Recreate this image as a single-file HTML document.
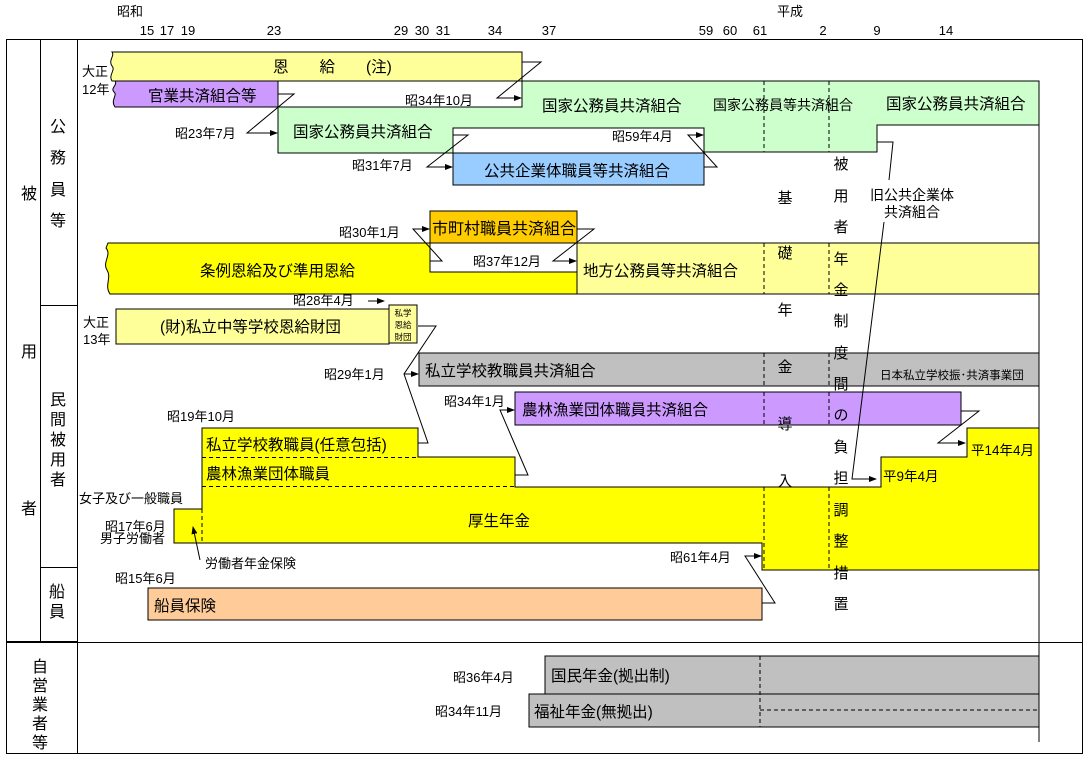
<!DOCTYPE html>
<html><head><meta charset="utf-8">
<style>
html,body{margin:0;padding:0;background:#fff;}
svg{display:block;}
text{font-family:"Liberation Sans","Noto Sans CJK JP",sans-serif;fill:#000;}
</style></head>
<body>
<svg width="1088" height="762" viewBox="0 0 1088 762" xmlns="http://www.w3.org/2000/svg">
<g font-size="13">
<!-- axis -->
<text x="117" y="16" font-size="13">昭和</text>
<text x="777" y="16" font-size="13">平成</text>
<g font-size="13" text-anchor="middle">
<text x="147" y="35">15</text><text x="167" y="35">17</text><text x="188" y="35">19</text>
<text x="274" y="35">23</text><text x="401" y="35">29</text><text x="422" y="35">30</text><text x="443" y="35">31</text>
<text x="495" y="35">34</text><text x="549" y="35">37</text><text x="706" y="35">59</text><text x="730" y="35">60</text>
<text x="760" y="35">61</text><text x="823" y="35">2</text><text x="877" y="35">9</text><text x="946" y="35">14</text>
</g>

<!-- frame -->
<g stroke="#000" fill="none" stroke-width="1">
<rect x="6.5" y="39.5" width="1076" height="714"/>
<line x1="40.5" y1="39" x2="40.5" y2="642"/>
<line x1="77.5" y1="39" x2="77.5" y2="754"/>
<line x1="40" y1="305.5" x2="77" y2="305.5"/>
<line x1="40" y1="567.5" x2="77" y2="567.5"/>
<line x1="77" y1="642.5" x2="1082" y2="642.5"/>
<line x1="6" y1="642" x2="77" y2="642" stroke-width="2"/>
</g>
<g font-size="16" text-anchor="middle">
<text x="29" y="199">被</text><text x="29" y="357">用</text><text x="29" y="514">者</text>
<text x="58" y="132">公</text><text x="58" y="163">務</text><text x="58" y="195">員</text><text x="58" y="226">等</text>
<text x="58" y="405">民</text><text x="58" y="425">間</text><text x="58" y="445">被</text><text x="58" y="465">用</text><text x="58" y="485">者</text>
<text x="57" y="597">船</text><text x="57" y="617">員</text>
<text x="40" y="672">自</text><text x="40" y="691">営</text><text x="40" y="710">業</text><text x="40" y="729">者</text><text x="40" y="748">等</text>
</g>

<!-- boxes -->
<g stroke="#000" stroke-width="1">
<path d="M112,52 L522,52 L522,107 L278,107 L278,81 L112,81 C108,75 116,70 112,66 C108,60 115,56 112,52 Z" fill="#ffff99"/>
<rect x="278" y="81" width="244" height="26" fill="#fff"/>
<path d="M115,81 L278,81 L278,107 L115,107 C110,100 118,95 114,92 C110,88 118,85 115,81 Z" fill="#cc99ff"/>
<path d="M278,107 L522,107 L522,81 L1039,81 L1039,125 L877,125 L877,152 L704,152 L704,128 L453,128 L453,153 L278,153 Z" fill="#ccffcc"/>
<rect x="453" y="128" width="251" height="25" fill="#fff"/>
<rect x="453" y="153" width="251" height="32" fill="#99ccff"/>
<rect x="430" y="211" width="147" height="32" fill="#ffcc00"/>
<rect x="430" y="243" width="147" height="29" fill="#fff"/>
<path d="M108,243 L430,243 L430,272 L577,272 L577,294 L110,294 C104,285 112,278 107,270 C102,262 112,255 106,248 Z" fill="#ffff00"/>
<rect x="577" y="243" width="462" height="51" fill="#ffff99"/>
<rect x="116" y="309" width="273" height="35" fill="#ffff99"/>
<rect x="389" y="305" width="28" height="38" fill="#ffff99"/>
<rect x="419" y="353" width="620" height="33" fill="#c0c0c0"/>
<rect x="515" y="392" width="446" height="33" fill="#cc99ff"/>
<path d="M202,428 L418,428 L418,457 L515,457 L515,487 L881,487 L881,457 L967,457 L967,428 L1039,428 L1039,570 L762,570 L762,543 L174,543 L174,509 L202,509 Z" fill="#ffff00"/>
<rect x="148" y="588" width="614" height="32" fill="#ffcc99"/>
<rect x="545" y="656" width="494" height="38" fill="#c0c0c0"/>
<rect x="529" y="694" width="510" height="33" fill="#c0c0c0"/>
<line x1="545" y1="656" x2="545" y2="694"/>
</g>
<line x1="1039" y1="81" x2="1039" y2="742" stroke="#000"/>
<g stroke="#000" stroke-dasharray="4,3" fill="none">
<line x1="764" y1="81" x2="764" y2="152"/><line x1="829" y1="81" x2="829" y2="152"/>
<line x1="764" y1="243" x2="764" y2="294"/><line x1="829" y1="243" x2="829" y2="294"/>
<line x1="764" y1="353" x2="764" y2="386"/><line x1="829" y1="353" x2="829" y2="386"/>
<line x1="764" y1="392" x2="764" y2="425"/><line x1="829" y1="392" x2="829" y2="425"/>
<line x1="764" y1="487" x2="764" y2="570"/><line x1="829" y1="487" x2="829" y2="570"/>
<line x1="202" y1="457.5" x2="418" y2="457.5"/><line x1="202" y1="486.5" x2="515" y2="486.5"/>
<line x1="202" y1="509" x2="202" y2="543"/>
<line x1="760" y1="656" x2="760" y2="727"/>
<line x1="545" y1="694" x2="760" y2="694"/><line x1="760" y1="710" x2="1039" y2="710"/>
</g>

<defs><marker id="a" markerWidth="8" markerHeight="6" refX="7" refY="3" orient="auto"><path d="M0,0 L8,3 L0,6 Z" fill="#000"/></marker></defs>
<g stroke="#000" fill="none" stroke-width="1">
<path d="M522,62 L541,62 L497,98 L521,98" marker-end="url(#a)"/>
<path d="M278,94 L294,94 L247,133 L277,133" marker-end="url(#a)"/>
<path d="M453,135 L468,135 L427,167 L452,167" marker-end="url(#a)"/>
<path d="M704,167 L717,167 L688,135 L703,135" marker-end="url(#a)"/>
<path d="M430,261 L442,261 L413,229 L429,229" marker-end="url(#a)"/>
<path d="M577,229 L594,229 L553,261 L576,261" marker-end="url(#a)"/>
<path d="M368,301 L384,301" marker-end="url(#a)"/>
<path d="M418,326 L436,326 L404,374 L428,443 L418,443"/>
<path d="M404,374 L418,374" marker-end="url(#a)"/>
<path d="M515,475 L528,475 L500,410 L514,410" marker-end="url(#a)"/>
<path d="M961,411 L979,411 L938,443 L965,443" marker-end="url(#a)"/>
<path d="M877,142 L893,142 L889,180"/>
<path d="M884,222 L852,479 L876,479" marker-end="url(#a)"/>
<path d="M762,603 L775,603 L745,556 L761,556" marker-end="url(#a)"/>
<path d="M200,560 L193,527" marker-end="url(#a)"/>
</g>

<g font-size="15.5">
<text x="273" y="72">恩　　給　　(注)</text>
<text x="148" y="101">官業共済組合等</text>
<text x="293" y="137">国家公務員共済組合</text>
<text x="542" y="111">国家公務員共済組合</text>
<text x="713" y="110" font-size="14">国家公務員等共済組合</text>
<text x="886" y="109">国家公務員共済組合</text>
<text x="484" y="176">公共企業体職員等共済組合</text>
<text x="432" y="234" font-size="16">市町村職員共済組合</text>
<text x="200" y="276">条例恩給及び準用恩給</text>
<text x="583" y="276">地方公務員等共済組合</text>
<text x="160" y="332">(財)私立中等学校恩給財団</text>
<text x="425" y="376">私立学校教職員共済組合</text>
<text x="880" y="379" font-size="11.5">日本私立学校振･共済事業団</text>
<text x="522" y="415">農林漁業団体職員共済組合</text>
<text x="206" y="450">私立学校教職員(任意包括)</text>
<text x="206" y="479">農林漁業団体職員</text>
<text x="468" y="526">厚生年金</text>
<text x="883" y="481" font-size="13.5">平9年4月</text>
<text x="971" y="455" font-size="13.5">平14年4月</text>
<text x="154" y="611">船員保険</text>
<text x="551" y="681">国民年金(拠出制)</text>
<text x="534" y="717">福祉年金(無拠出)</text>
</g>
<g font-size="8.5" text-anchor="middle">
<text x="403" y="316">私学</text><text x="403" y="328">恩給</text><text x="403" y="340">財団</text>
</g>

<g font-size="13">
<text x="82" y="76">大正</text><text x="82" y="94">12年</text>
<text x="83" y="327">大正</text><text x="83" y="344">13年</text>
<text x="405" y="105">昭34年10月</text>
<text x="175" y="138">昭23年7月</text>
<text x="352" y="170">昭31年7月</text>
<text x="612" y="141">昭59年4月</text>
<text x="339" y="237">昭30年1月</text>
<text x="473" y="266">昭37年12月</text>
<text x="293" y="305">昭28年4月</text>
<text x="324" y="379">昭29年1月</text>
<text x="444" y="406">昭34年1月</text>
<text x="167" y="421">昭19年10月</text>
<text x="79" y="503">女子及び一般職員</text>
<text x="105" y="531">昭17年6月</text>
<text x="100" y="543">男子労働者</text>
<text x="205" y="568">労働者年金保険</text>
<text x="115" y="583">昭15年6月</text>
<text x="670" y="562">昭61年4月</text>
<text x="453" y="682">昭36年4月</text>
<text x="435" y="716">昭34年11月</text>
<text x="870" y="200" font-size="14">旧公共企業体</text>
<text x="884" y="217" font-size="14">共済組合</text>
</g>
<g font-size="15" text-anchor="middle">
<text x="785" y="203">基</text><text x="785" y="258">礎</text><text x="785" y="315">年</text>
<text x="785" y="372">金</text><text x="785" y="429">導</text><text x="785" y="486">入</text>
<text x="841" y="169">被</text><text x="841" y="201">用</text><text x="841" y="232">者</text><text x="841" y="264">年</text>
<text x="841" y="295">金</text><text x="841" y="326">制</text><text x="841" y="358">度</text><text x="841" y="389">間</text>
<text x="841" y="420">の</text><text x="841" y="452">負</text><text x="841" y="483">担</text><text x="841" y="515">調</text>
<text x="841" y="546">整</text><text x="841" y="578">措</text><text x="841" y="609">置</text>
</g>
</g>
</svg>
</body></html>
